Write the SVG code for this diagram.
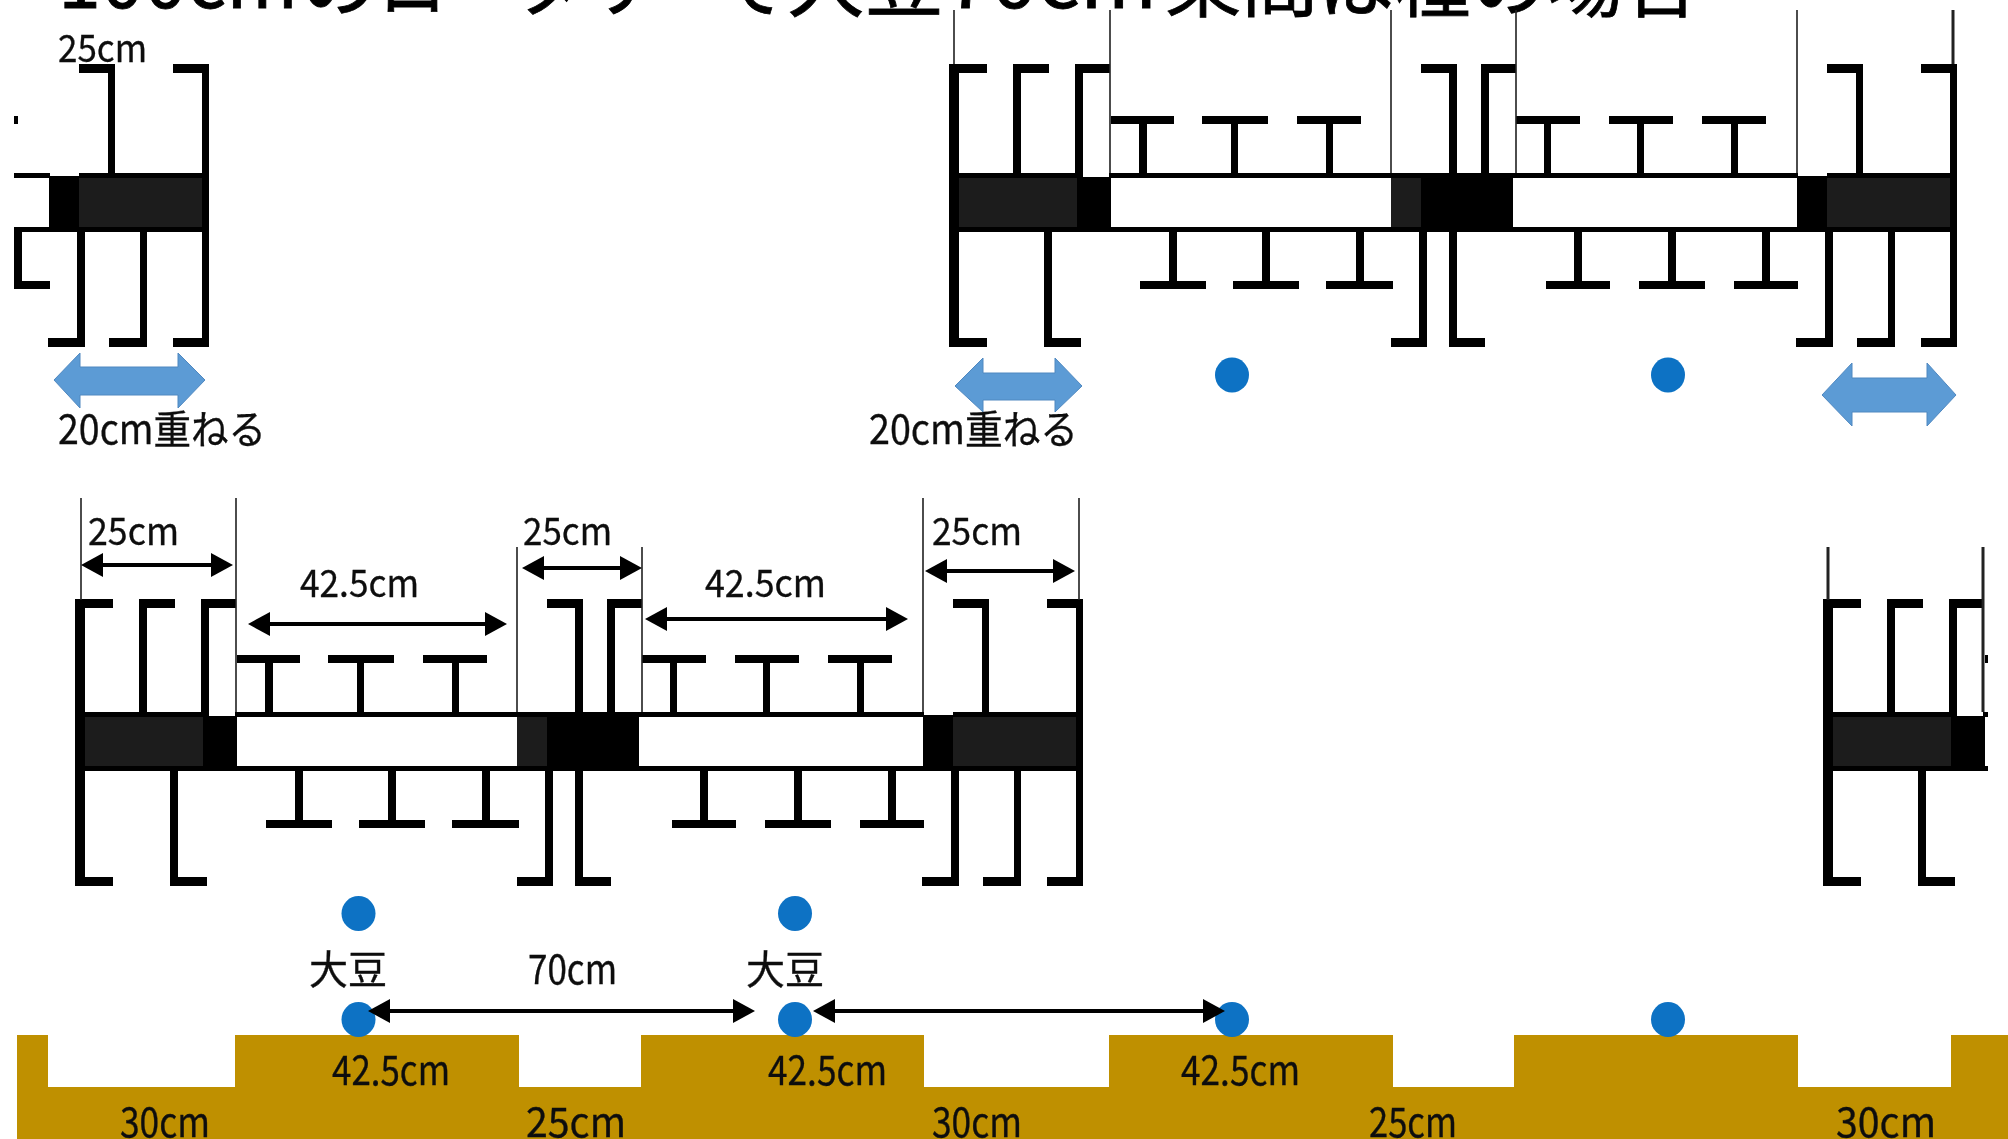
<svg xmlns="http://www.w3.org/2000/svg" xmlns:xlink="http://www.w3.org/1999/xlink" width="2008" height="1139" viewBox="0 0 2008 1139">
<style>
text{font-family:"Noto Sans CJK JP","Liberation Sans",sans-serif;fill:#111;stroke:#111;stroke-width:.35}
.s{font-size:38px}
.m{font-size:40px}
.t{font-size:78px;fill:#000;stroke:#000;stroke-width:.8}
.thin{stroke:#222;stroke-width:1.6;fill:none}
.thick{stroke:#222;stroke-width:3;fill:none}
.dim{stroke:#000;stroke-width:4;fill:none;marker-start:url(#head);marker-end:url(#head)}
.dbl{fill:#5b9bd5;stroke:#5088c0;stroke-width:1}
.dot{fill:#0b72c4}
.dark{fill:#1a1a1a}
.wh{fill:#fff}
</style>
<defs>
<filter id="soft" x="0" y="0" width="100%" height="100%"><feGaussianBlur stdDeviation="0.7"/></filter>
<marker id="head" markerUnits="userSpaceOnUse" viewBox="0 0 22 24" markerWidth="22" markerHeight="24" refX="12" refY="12" orient="auto-start-reverse"><path d="M0 0L22 12L0 24z" fill="#000"/></marker>
<clipPath id="clipL"><rect x="14" y="0" width="210" height="400"/></clipPath>
<clipPath id="clipR"><rect x="1810" y="500" width="178" height="400"/></clipPath>
<g id="unit">
<rect x="949" y="173" width="1008" height="59"/>
<rect class="wh" x="1111" y="178" width="280" height="49"/>
<rect class="wh" x="1513" y="178" width="284" height="49"/>
<rect class="dark" x="959" y="178" width="118" height="49"/>
<rect class="dark" x="1391" y="178" width="30" height="49"/>
<rect class="dark" x="1827" y="178" width="123" height="49"/>
<rect class="wh" x="1083" y="173" width="26" height="4"/>
<rect class="wh" x="1798" y="173" width="29" height="3"/>
<rect x="949" y="64" width="10" height="283"/>
<rect x="1950" y="64" width="7" height="283"/>
<rect x="1013" y="64" width="8" height="110"/>
<rect x="1075" y="64" width="8" height="110"/>
<rect x="1449" y="64" width="8" height="110"/>
<rect x="1481" y="64" width="8" height="110"/>
<rect x="1856" y="64" width="7" height="110"/>
<rect x="1111" y="116" width="63" height="8"/><rect x="1139" y="116" width="8" height="58"/>
<rect x="1202" y="116" width="66" height="8"/><rect x="1231" y="116" width="7" height="58"/>
<rect x="1297" y="116" width="64" height="8"/><rect x="1326" y="116" width="7" height="58"/>
<rect x="1516" y="116" width="64" height="8"/><rect x="1544" y="116" width="7" height="58"/>
<rect x="1609" y="116" width="64" height="8"/><rect x="1637" y="116" width="7" height="58"/>
<rect x="1702" y="116" width="64" height="8"/><rect x="1731" y="116" width="7" height="58"/>
<rect x="1169" y="232" width="8" height="57"/><rect x="1140" y="281" width="66" height="8"/>
<rect x="1262" y="232" width="8" height="57"/><rect x="1233" y="281" width="66" height="8"/>
<rect x="1356" y="232" width="8" height="57"/><rect x="1326" y="281" width="67" height="8"/>
<rect x="1574" y="232" width="8" height="57"/><rect x="1546" y="281" width="64" height="8"/>
<rect x="1668" y="232" width="8" height="57"/><rect x="1639" y="281" width="66" height="8"/>
<rect x="1762" y="232" width="8" height="57"/><rect x="1734" y="281" width="64" height="8"/>
<rect x="1044" y="232" width="8" height="115"/>
<rect x="1419" y="232" width="8" height="115"/>
<rect x="1449" y="232" width="8" height="115"/>
<rect x="1825" y="232" width="8" height="115"/>
<rect x="1888" y="232" width="7" height="115"/>
<rect x="949" y="338" width="38" height="9"/>
<rect x="1044" y="338" width="37" height="9"/>
<rect x="1391" y="338" width="36" height="9"/>
<rect x="1449" y="338" width="36" height="9"/>
<rect x="1796" y="338" width="37" height="9"/>
<rect x="1857" y="338" width="38" height="9"/>
<rect x="1921" y="338" width="36" height="9"/>
</g>
<g id="flanges">
<rect x="949" y="64" width="38" height="9"/>
<rect x="1013" y="64" width="36" height="9"/>
<rect x="1075" y="64" width="35" height="9"/>
<rect x="1421" y="64" width="36" height="9"/>
<rect x="1481" y="64" width="35" height="9"/>
<rect x="1827" y="64" width="36" height="9"/>
<rect x="1921" y="64" width="36" height="9"/>
</g>
</defs>
<rect width="2008" height="1139" fill="#fff"/>
<g filter="url(#soft)">
<g id="title">
<text class="t" x="58" y="8" textLength="240" lengthAdjust="spacingAndGlyphs">100cm</text>
<text class="t" x="300" y="11">の</text>
<text class="t" x="378" y="11" textLength="408" lengthAdjust="spacingAndGlyphs">ロータリーで</text>
<text class="t" x="787" y="11" textLength="156" lengthAdjust="spacingAndGlyphs">大豆</text>
<text class="t" x="945" y="8" textLength="212" lengthAdjust="spacingAndGlyphs">70cm</text>
<text class="t" x="1165" y="11" textLength="535" lengthAdjust="spacingAndGlyphs">条間は種の場合</text>
</g>
<g id="ground"><path d="M17 1035H48V1087H235V1035H519V1087H641V1035H924V1087H1109V1035H1393V1087H1514V1035H1798V1087H1951V1035H2008V1139H17z" fill="#bf9000"/></g>
<g id="row1-left" clip-path="url(#clipL)"><use href="#unit" x="-1748"/><use href="#flanges" x="-1748"/></g>
<g id="row1-main"><use href="#unit"/><use href="#flanges"/>
<path class="thin" d="M954 10V64M1110 10V173M1391 10V173M1516 10V173M1797 10V173"/><path class="thick" d="M1953 10V64"/></g>
<g id="row2-main"><use href="#unit" x="-874" y="539"/><use href="#flanges" x="-874" y="535"/>
<path class="thin" d="M81 498V600M236 498V712M517 547V712M642 547V712M923 498V712M1079 498V600"/></g>
<g id="row2-right" clip-path="url(#clipR)"><use href="#unit" x="874" y="539"/><use href="#flanges" x="874" y="535"/>
<path class="thick" d="M1828 547V600M1983 547V712"/></g>
<g id="dots">
<ellipse class="dot" cx="1232" cy="375" rx="17" ry="17.500"/>
<ellipse class="dot" cx="1668" cy="375" rx="17" ry="17.500"/>
<ellipse class="dot" cx="358.500" cy="913.500" rx="17" ry="17.500"/>
<ellipse class="dot" cx="795" cy="913.500" rx="17" ry="17.500"/>
<ellipse class="dot" cx="358.500" cy="1019.500" rx="17" ry="17.500"/>
<ellipse class="dot" cx="795" cy="1019.500" rx="17" ry="17.500"/>
<ellipse class="dot" cx="1232" cy="1019.500" rx="17" ry="17.500"/>
<ellipse class="dot" cx="1668" cy="1019.500" rx="17" ry="17.500"/>
</g>
<g id="connectors">
<path class="dbl" d="M54 380L80 353V367H178V353L205 380L178 408V395H80V408z"/>
<path class="dbl" d="M955 386L983 358V373H1055V358L1082 386L1055 412V400H983V412z"/>
<path class="dbl" d="M1822 395L1852 363V378H1927V363L1956 395L1927 426V412H1852V426z"/>
<line class="dim" x1="91" y1="565" x2="223" y2="565"/>
<line class="dim" x1="532" y1="568" x2="632" y2="568"/>
<line class="dim" x1="935" y1="571" x2="1065" y2="571"/>
<line class="dim" x1="258" y1="624" x2="497" y2="624"/>
<line class="dim" x1="655" y1="619" x2="898" y2="619"/>
<line class="dim" x1="378" y1="1011" x2="745" y2="1011"/>
<line class="dim" x1="823" y1="1011" x2="1215" y2="1011"/>
</g>
<g id="labels">
<text class="s" x="58" y="62" textLength="89" lengthAdjust="spacingAndGlyphs">25cm</text>
<text class="m" x="58" y="444" textLength="208" lengthAdjust="spacingAndGlyphs">20cm重ねる</text>
<text class="m" x="869" y="444" textLength="209" lengthAdjust="spacingAndGlyphs">20cm重ねる</text>
<text class="s" x="88" y="545" textLength="91" lengthAdjust="spacingAndGlyphs">25cm</text>
<text class="s" x="523" y="545" textLength="89" lengthAdjust="spacingAndGlyphs">25cm</text>
<text class="s" x="932" y="545" textLength="90" lengthAdjust="spacingAndGlyphs">25cm</text>
<text class="s" x="300" y="597" textLength="119" lengthAdjust="spacingAndGlyphs">42.5cm</text>
<text class="s" x="705" y="597" textLength="121" lengthAdjust="spacingAndGlyphs">42.5cm</text>
<text class="m" x="309" y="984" textLength="78" lengthAdjust="spacingAndGlyphs">大豆</text>
<text class="m" x="746" y="984" textLength="78" lengthAdjust="spacingAndGlyphs">大豆</text>
<text class="m" x="528" y="984" textLength="89" lengthAdjust="spacingAndGlyphs">70cm</text>
<text class="m" x="332" y="1085" textLength="118" lengthAdjust="spacingAndGlyphs">42.5cm</text>
<text class="m" x="768" y="1085" textLength="119" lengthAdjust="spacingAndGlyphs">42.5cm</text>
<text class="m" x="1181" y="1085" textLength="119" lengthAdjust="spacingAndGlyphs">42.5cm</text>
<text class="m" x="120" y="1137" textLength="90" lengthAdjust="spacingAndGlyphs">30cm</text>
<text class="m" x="526" y="1137" textLength="100" lengthAdjust="spacingAndGlyphs">25cm</text>
<text class="m" x="932" y="1137" textLength="90" lengthAdjust="spacingAndGlyphs">30cm</text>
<text class="m" x="1369" y="1137" textLength="88" lengthAdjust="spacingAndGlyphs">25cm</text>
<text class="m" x="1836" y="1137" textLength="100" lengthAdjust="spacingAndGlyphs">30cm</text>
</g>
</g>
</svg>
